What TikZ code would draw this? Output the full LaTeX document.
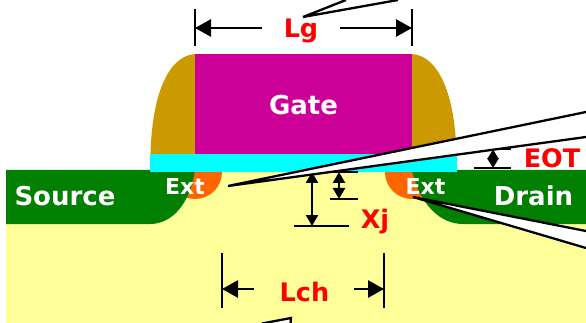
\documentclass[tikz,border=0pt]{standalone}
\usepackage{fontspec}
\setmainfont{DejaVu Sans}
\usetikzlibrary{arrows.meta}
\tikzset{
  wlabel/.style={text=white,font=\bfseries\fontsize{26}{30}\selectfont,anchor=base,inner sep=0pt},
  extlabel/.style={text=white,font=\bfseries\fontsize{22}{26}\selectfont,anchor=base,inner sep=0pt},
  rlabel/.style={text=red,font=\bfseries\fontsize{25.5}{30}\selectfont,anchor=base,inner sep=0pt},
  dimtick/.style={draw=black,line width=2.2pt},
  dimarrow/.style={draw=black,line width=2.8pt,-{Triangle[length=16pt,width=17pt]}},
  dimsmall/.style={draw=black,line width=2.4pt,{Triangle[length=11pt,width=12pt]}-{Triangle[length=11pt,width=12pt]}},
  dimtiny/.style={draw=black,line width=2.2pt,{Triangle[length=9.5pt,width=11pt]}-{Triangle[length=9.5pt,width=11pt]}},
  wedge/.style={draw=black,fill=white,line width=2.3pt,line join=miter}
}
\definecolor{subst}{HTML}{FFFF99}
\definecolor{spacer}{HTML}{CC9900}
\definecolor{gatec}{HTML}{CC0099}
\definecolor{green0}{HTML}{007F00}
\definecolor{extc}{HTML}{FF6600}
\definecolor{oxide}{HTML}{00FFFF}
\begin{document}
\begin{tikzpicture}[x=1pt,y=-1pt]
\useasboundingbox (0,0) rectangle (586,323);
\clip (0,0) rectangle (586,323);
% substrate
\fill[subst] (6,170) rectangle (586,323);
% extensions
\fill[extc] (222,172) .. controls (222,187) and (210,199) .. (195,199) .. controls (180,199) and (168,187) .. (168,172) -- cycle;
\fill[extc] (439,172) .. controls (439,187) and (427,199) .. (412,199) .. controls (397,199) and (385,187) .. (385,172) -- cycle;
% source, drain
\fill[green0] (6,170) -- (195,170) .. controls (190,204) and (172,224) .. (150,224) -- (6,224) -- cycle;
\fill[green0] (412,170) -- (586,170) -- (586,224) -- (463,224) .. controls (441,224) and (420,206) .. (412,170) -- cycle;
% spacers
\fill[spacer] (150.5,154) .. controls (152,95) and (168,56) .. (195,54) -- (195,154) -- cycle;
\fill[spacer] (456.5,154) .. controls (455,95) and (439,56) .. (412,54) -- (412,154) -- cycle;
% gate, oxide
\fill[gatec] (195,54) rectangle (412,154);
\fill[oxide] (150,154) rectangle (457,172);
% labels in the device
\node[wlabel] (gate) at (303.5,115) {Gate};
\node[wlabel] (source) at (65,205) {Source};
\node[wlabel] (drain) at (533.5,205) {Drain};
\node[extlabel] (extl) at (185,195) {Ext};
\node[extlabel] (extr) at (425.5,195) {Ext};
% Lg
\coordinate (lgla) at (195,9); \coordinate (lglb) at (195,46);
\coordinate (lgra) at (412,9); \coordinate (lgrb) at (412,46);
\coordinate (lgl) at (195,28); \coordinate (lgr) at (412,28);
\coordinate (lgls) at (262,28); \coordinate (lgrs) at (340,28);
\draw[dimtick] (lgla) -- (lglb);
\draw[dimtick] (lgra) -- (lgrb);
\draw[dimarrow] (lgls) -- (lgl);
\draw[dimarrow] (lgrs) -- (lgr);
\node[rlabel] (lg) at (301,38) {Lg};
% Lch
\coordinate (lcla) at (222,253); \coordinate (lclb) at (222,308);
\coordinate (lcra) at (384,253); \coordinate (lcrb) at (384,308);
\coordinate (lcl) at (222,289); \coordinate (lcr) at (384,289);
\coordinate (lcls) at (254,289); \coordinate (lcrs) at (354,289);
\draw[dimtick] (lcla) -- (lclb);
\draw[dimtick] (lcra) -- (lcrb);
\draw[dimarrow] (lcls) -- (lcl);
\draw[dimarrow] (lcrs) -- (lcr);
\node[rlabel] (lch) at (304.5,301) {Lch};
% Xj
\coordinate (xa) at (305,172); \coordinate (xb) at (358,172);
\coordinate (xc) at (330,199); \coordinate (xd) at (358,199);
\coordinate (xe) at (294,226); \coordinate (xf) at (349,226);
\coordinate (x1a) at (339,172); \coordinate (x1b) at (339,199);
\coordinate (x2a) at (312,172); \coordinate (x2b) at (312,226);
\draw[dimtick] (xa) -- (xb);
\draw[dimtick] (xc) -- (xd);
\draw[dimtick] (xe) -- (xf);
\draw[dimsmall] (x1a) -- (x1b);
\draw[dimsmall] (x2a) -- (x2b);
\node[rlabel] (xj) at (375,228) {Xj};
% EOT
\coordinate (ea) at (490,149); \coordinate (eb) at (511,149);
\coordinate (ec) at (474,168); \coordinate (ed) at (511,168);
\coordinate (e1) at (493,149.5); \coordinate (e2) at (493,168);
\draw[dimtick] (ea) -- (eb);
\draw[dimtick] (ec) -- (ed);
\draw[dimtiny] (e1) -- (e2);
\node[rlabel] (eot) at (552,168) {EOT};
% callout wedges
\coordinate (w1t) at (228,186); \coordinate (w1a) at (586,112); \coordinate (w1b) at (586,137);
\draw[wedge] (w1a) -- (w1t) -- (w1b);
\coordinate (w2t) at (413,197); \coordinate (w2a) at (586,231); \coordinate (w2b) at (586,248);
\draw[wedge] (w2a) -- (w2t) -- (w2b);
\coordinate (w3t) at (303,17); \coordinate (w3a) at (346,0); \coordinate (w3b) at (398,0);
\draw[wedge] (w3a) -- (w3t) -- (w3b);
\coordinate (w4t) at (291,318); \coordinate (w4a) at (262,323.5); \coordinate (w4b) at (290.5,323.5);
\draw[wedge] (w4a) -- (w4t) -- (w4b);
\end{tikzpicture}
\end{document}
